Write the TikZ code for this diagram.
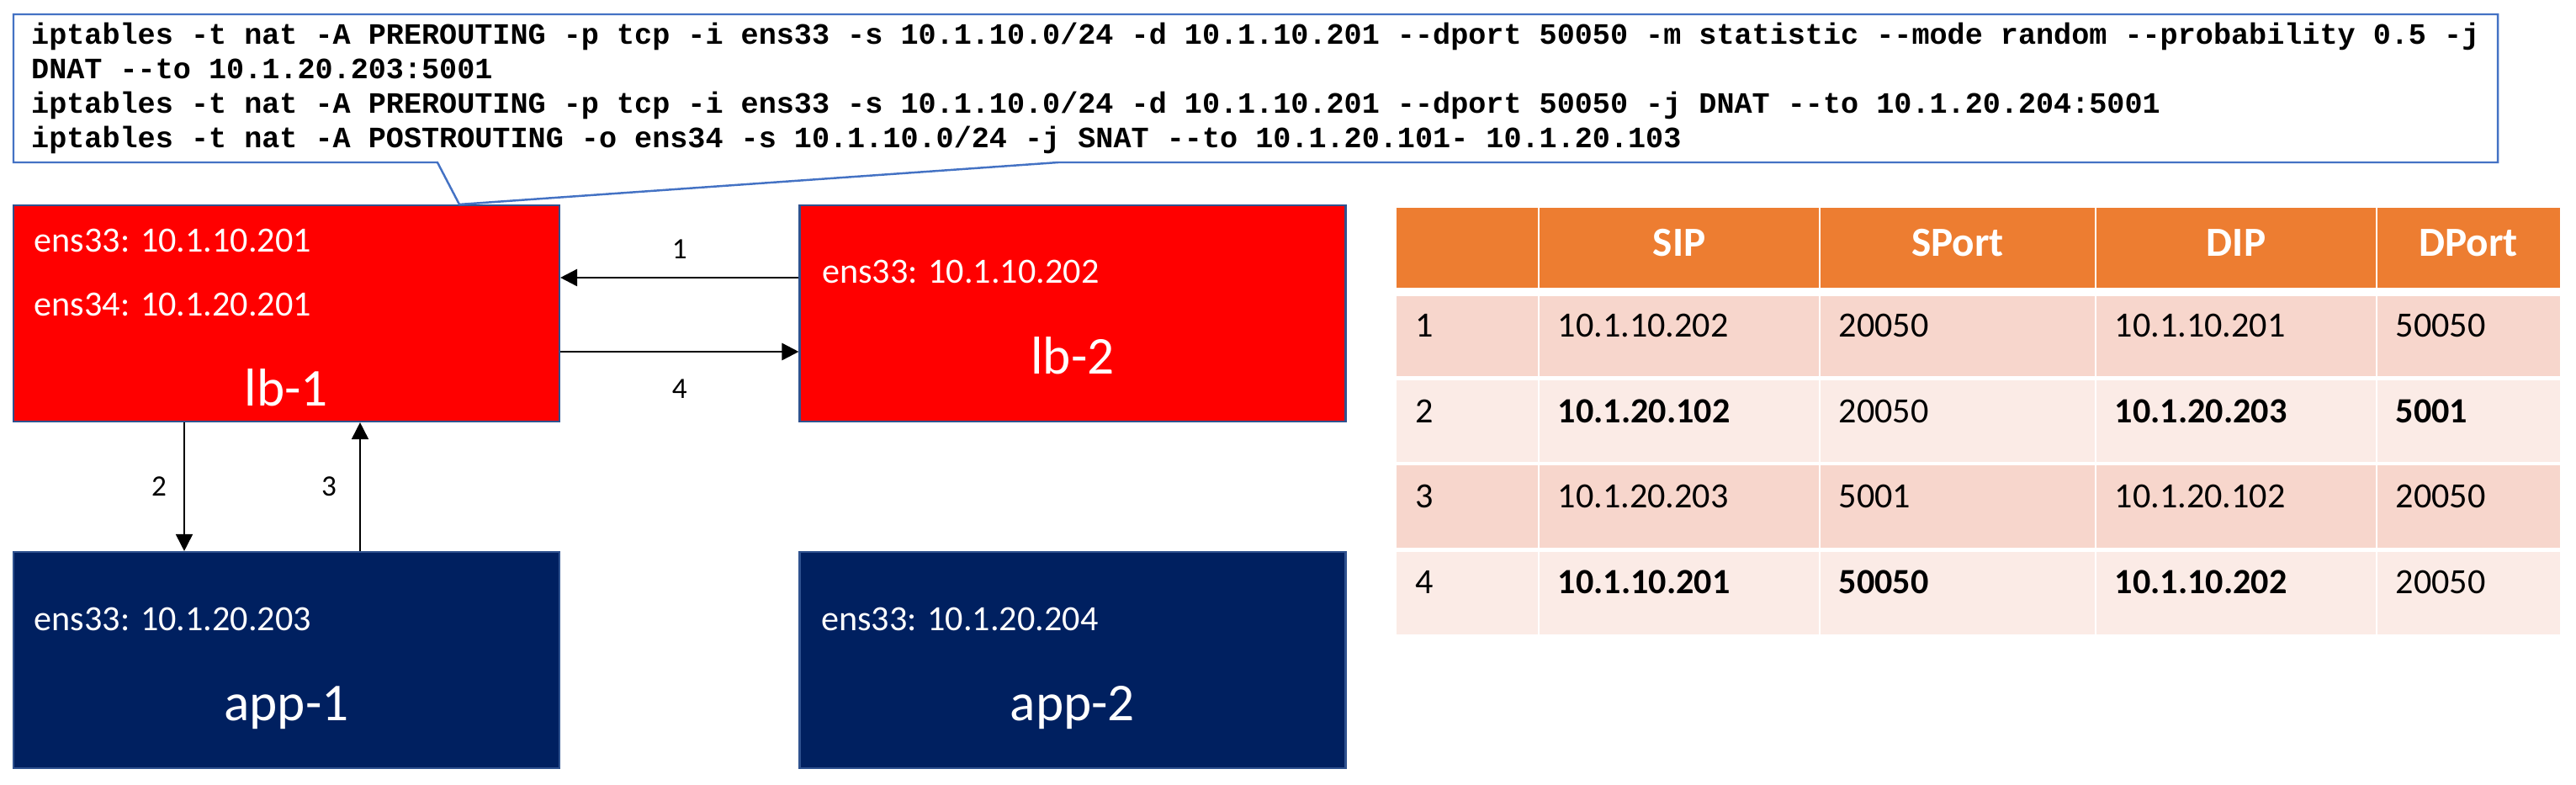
\documentclass[tikz,border=0pt]{standalone}
\usepackage{fontspec}
\setmainfont{Carlito}
\newfontfamily\codefont{Liberation Mono}
\usepackage{tikz}
\usetikzlibrary{arrows.meta,positioning,shapes.callouts}

\definecolor{lbred}{HTML}{FF0000}
\definecolor{appblue}{HTML}{002060}
\definecolor{boxline}{HTML}{2F528F}
\definecolor{noteline}{HTML}{4472C4}
\definecolor{hdrorange}{HTML}{ED7D31}
\definecolor{bandA}{HTML}{F7D6CC}
\definecolor{bandB}{HTML}{FBEBE6}

\begin{document}
\begin{tikzpicture}[
    host/.style={draw=boxline, line width=0.6pt, minimum width=6.49cm,
                 minimum height=2.57cm, inner sep=0pt},
    ip/.style={text=white, inner sep=0pt, anchor=base west,
               font=\fontsize{12}{14}\selectfont},
    hname/.style={text=white, inner sep=0pt, anchor=base,
                  font=\fontsize{18}{21}\selectfont},
    flow/.style={draw, -{Triangle[length=0.2cm, width=0.2cm]}},
    hop/.style={inner sep=0pt, font=\fontsize{10}{12}\selectfont},
    th/.style={text=white, inner sep=0pt, anchor=base,
               font=\fontsize{14}{16}\selectfont\bfseries},
    td/.style={inner sep=0pt, anchor=base west,
               font=\fontsize{12}{14}\selectfont}
  ]
  \fill[white] (0,0) rectangle (30.62,-9.32);
  \useasboundingbox (0,0) rectangle (30.62,-9.32);

  % hosts
  \node[host, fill=lbred]   (lb1)  at (3.405,-3.725) {};
  \node[host, fill=lbred]   (lb2)  at (12.75,-3.725) {};
  \node[host, fill=appblue] (app1) at (3.405,-7.845) {};
  \node[host, fill=appblue] (app2) at (12.75,-7.845) {};

  \node[ip] (lb1ip1)  at ([shift={(0.25,-0.57)}]lb1.north west)  {ens33: 10.1.10.201};
  \node[ip] (lb1ip2)  at ([shift={(0.25,-1.33)}]lb1.north west)  {ens34: 10.1.20.201};
  \node[ip] (lb2ip)   at ([shift={(0.27,-0.94)}]lb2.north west)  {ens33: 10.1.10.202};
  \node[ip] (app1ip)  at ([shift={(0.25,-0.95)}]app1.north west) {ens33: 10.1.20.203};
  \node[ip] (app2ip)  at ([shift={(0.26,-0.95)}]app2.north west) {ens33: 10.1.20.204};

  \node[hname] (lb1name)  at ([yshift=0.20cm]lb1.south)  {lb-1};
  \node[hname] (lb2name)  at ([yshift=0.58cm]lb2.south)  {lb-2};
  \node[hname] (app1name) at ([yshift=0.58cm]app1.south) {app-1};
  \node[hname] (app2name) at ([yshift=0.58cm]app2.south) {app-2};

  % packet path
  \draw[flow, line width=0.75pt] ([yshift=0.425cm]lb2.west) --
    node[hop, yshift=0.34cm] (hop1) {1} ([yshift=0.425cm]lb1.east);
  \draw[flow, line width=0.5pt] ([xshift=-1.215cm]lb1.south) --
    node[hop, xshift=-0.30cm] (hop2) {2} ([xshift=-1.215cm]app1.north);
  \draw[flow, line width=0.5pt] ([xshift=0.875cm]app1.north) --
    node[hop, xshift=-0.37cm] (hop3) {3} ([xshift=0.875cm]lb1.south);
  \draw[flow, line width=0.75pt] ([yshift=-0.455cm]lb1.east) --
    node[hop, yshift=-0.44cm] (hop4) {4} ([yshift=-0.455cm]lb2.west);

  % iptables rules
  \node[draw=noteline, line width=0.7pt, rectangle callout,
        callout absolute pointer={([xshift=2.055cm]lb1.north)},
        callout pointer width=7.38cm,
        minimum width=29.53cm, minimum height=1.76cm, inner sep=0pt,
        align=left, font=\codefont\bfseries\fontsize{10}{11.7}\selectfont]
    (rules) at (14.925,-1.05)
    {iptables -t nat -A PREROUTING -p tcp -i ens33 -s 10.1.10.0/24 -d 10.1.10.201 -{}-dport 50050 -m statistic -{}-mode random -{}-probability 0.5 -j\\
     DNAT -{}-to 10.1.20.203:5001\\
     iptables -t nat -A PREROUTING -p tcp -i ens33 -s 10.1.10.0/24 -d 10.1.10.201 -{}-dport 50050 -j DNAT -{}-to 10.1.20.204:5001\\
     iptables -t nat -A POSTROUTING -o ens34 -s 10.1.10.0/24 -j SNAT -{}-to 10.1.20.101- 10.1.20.103};

  % NAT table
  \fill[hdrorange] (16.60,-2.47) rectangle (30.43,-3.47);
  \foreach \ya/\yb/\band in {-3.47/-4.495/bandA, -4.495/-5.51/bandB,
                             -5.51/-6.535/bandA, -6.535/-7.54/bandB}
    \fill[\band] (16.60,\ya) rectangle (30.43,\yb);
  \foreach \x in {18.29,21.63,24.91,28.25}
    \draw[white, line width=0.8pt] (\x,-2.47) -- (\x,-7.54);
  \draw[white, line width=2.9pt] (16.60,-3.47) -- (30.43,-3.47);
  \foreach \y in {-4.495,-5.51,-6.535}
    \draw[white, line width=1.2pt] (16.60,\y) -- (30.43,\y);

  \foreach \x/\hd in {19.96/SIP, 23.27/SPort, 26.58/DIP, 29.34/DPort}
    \node[th] (th-\hd) at (\x,-3.04) {\hd};

  \foreach \n/\y/\sip/\sport/\dip/\dport in {
      1/-4.00/10.1.10.202/20050/10.1.10.201/50050,
      2/-5.02/\textbf{10.1.20.102}/20050/\textbf{10.1.20.203}/\textbf{5001},
      3/-6.035/10.1.20.203/5001/10.1.20.102/20050,
      4/-7.05/\textbf{10.1.10.201}/\textbf{50050}/\textbf{10.1.10.202}/20050} {
    \node[td] (r\n-no)    at (16.82,\y) {\n};
    \node[td] (r\n-sip)   at (18.51,\y) {\sip};
    \node[td] (r\n-sport) at (21.85,\y) {\sport};
    \node[td] (r\n-dip)   at (25.13,\y) {\dip};
    \node[td] (r\n-dport) at (28.47,\y) {\dport};
  }
\end{tikzpicture}
\end{document}
